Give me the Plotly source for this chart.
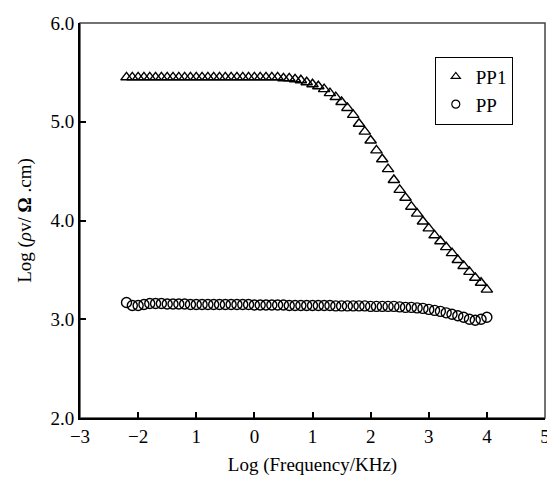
import plotly.graph_objects as go

# Data (log frequency in KHz, log resistivity)
log_freq = [round(-2.2 + 0.1 * i, 1) for i in range(63)]

pp1 = [5.45] * 26 + [
    5.45, 5.44, 5.44, 5.43, 5.42, 5.40, 5.38, 5.36, 5.33, 5.29,
    5.25, 5.20, 5.14, 5.07, 4.98, 4.90, 4.81, 4.71, 4.62, 4.52,
    4.41, 4.31, 4.23, 4.14, 4.07, 3.99, 3.92, 3.85, 3.79, 3.73,
    3.67, 3.60, 3.54, 3.48, 3.42, 3.37, 3.30,
]

pp = [
    3.17, 3.14, 3.14, 3.15, 3.16, 3.16, 3.16, 3.155, 3.155, 3.155,
    3.155, 3.15, 3.15, 3.15, 3.15, 3.15, 3.15, 3.15, 3.15, 3.15,
    3.15, 3.15, 3.145, 3.145, 3.145, 3.145, 3.145, 3.145, 3.14, 3.14,
    3.14, 3.14, 3.14, 3.14, 3.14, 3.14, 3.135, 3.135, 3.135, 3.135,
    3.135, 3.135, 3.13, 3.13, 3.13, 3.13, 3.13, 3.125, 3.12, 3.12,
    3.115, 3.11, 3.10, 3.09, 3.08, 3.065, 3.05, 3.035, 3.02, 3.00,
    2.99, 3.00, 3.02,
]

x_tickvals = [-3, -2, -1, 0, 1, 2, 3, 4, 5]
x_ticktext = ["\u22123", "\u22122", "1", "0", "1", "2", "3", "4", "5"]
y_tickvals = [2, 3, 4, 5, 6]

FONT = "Liberation Serif, Times New Roman, serif"

fig = go.Figure()

fig.add_trace(go.Scatter(
    x=log_freq, y=pp1, mode="markers", showlegend=False,
    marker=dict(symbol="triangle-up-open", size=10, color="black",
                line=dict(width=1.4, color="black")),
))
fig.add_trace(go.Scatter(
    x=log_freq, y=pp, mode="markers", showlegend=False,
    marker=dict(symbol="circle-open", size=10, color="black",
                line=dict(width=1.4, color="black")),
))
# legend entries (smaller markers as in the reference legend)
fig.add_trace(go.Scatter(
    x=[None], y=[None], mode="markers", name="PP1",
    marker=dict(symbol="triangle-up-open", size=8, color="black",
                line=dict(width=1.2, color="black")),
))
fig.add_trace(go.Scatter(
    x=[None], y=[None], mode="markers", name="PP",
    marker=dict(symbol="circle-open", size=8, color="black",
                line=dict(width=1.2, color="black")),
))

# the page body has an 8px margin, so the figure is 8px smaller and offset
fig.update_layout(
    width=547, height=469,
    margin=dict(l=72, r=5, t=14, b=57),
    paper_bgcolor="white", plot_bgcolor="white",
    font=dict(family=FONT, size=19, color="black"),
    legend=dict(
        x=0.763, y=0.915, xanchor="left", yanchor="top",
        bordercolor="black", borderwidth=1, bgcolor="white",
        font=dict(family=FONT, size=19),
        tracegroupgap=0, itemwidth=30,
    ),
    xaxis=dict(
        range=[-3, 5], tickvals=x_tickvals, ticktext=x_ticktext,
        showgrid=False, zeroline=False,
        showline=True, linecolor="black", linewidth=2,
        ticks="inside", ticklen=6, tickwidth=1.5, tickcolor="black",
        tickfont=dict(family=FONT, size=19),
        title=dict(text="Log (Frequency/KHz)", font=dict(family=FONT, size=19), standoff=12),
    ),
    yaxis=dict(
        range=[2, 6], tickvals=y_tickvals, tickformat=".1f",
        showgrid=False, zeroline=False,
        showline=True, linecolor="black", linewidth=2,
        ticks="inside", ticklen=6, tickwidth=1.5, tickcolor="black",
        tickfont=dict(family=FONT, size=19),
        title=dict(text="Log (<i>ρ</i>v/ <b>Ω</b> .cm)", font=dict(family=FONT, size=19), standoff=14),
    ),
    shapes=[dict(type="rect", xref="paper", yref="paper", x0=0, y0=0, x1=1, y1=1,
                 line=dict(color="#444", width=1.5), layer="below")],
)

fig.write_html("out.html")
